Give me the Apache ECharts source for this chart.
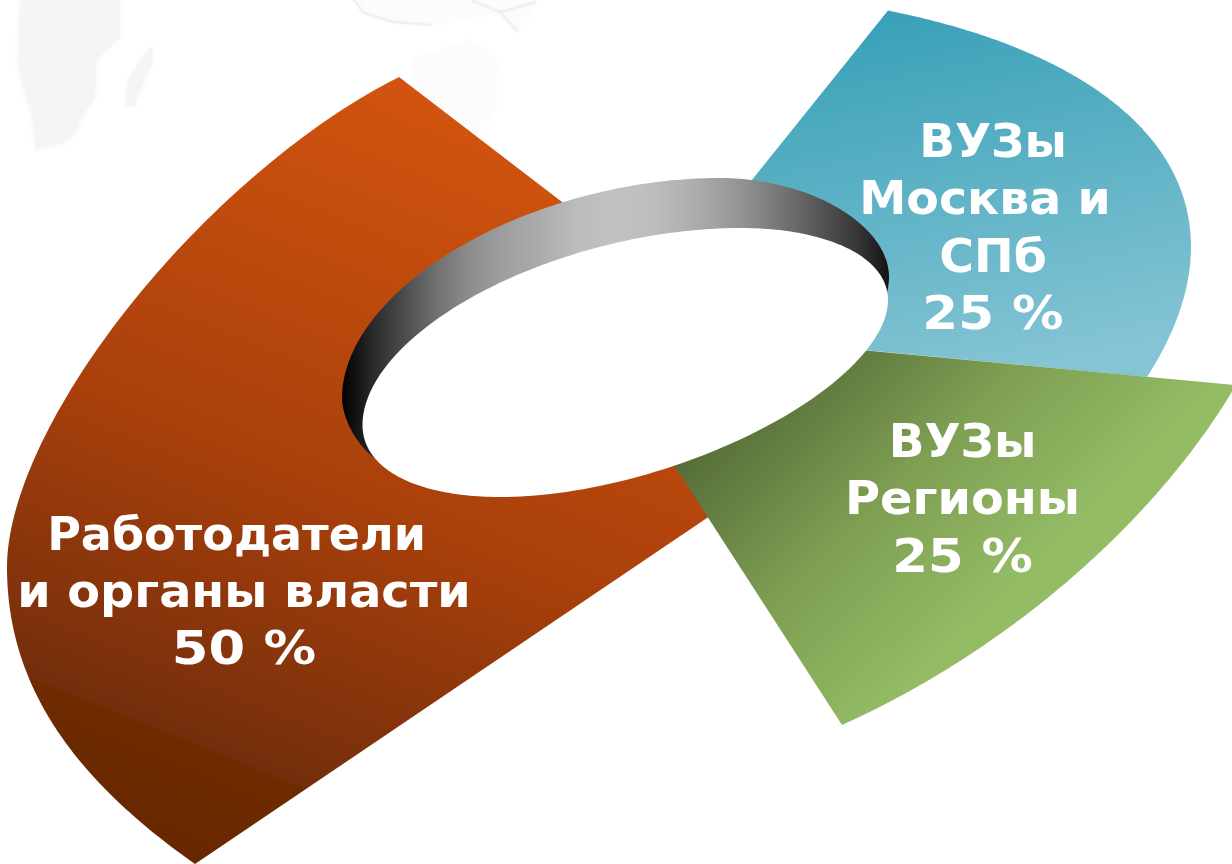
<!DOCTYPE html>
<html><head><meta charset="utf-8">
<style>html,body{margin:0;padding:0;background:#fff}#c{width:1232px;height:864px}</style>
<script src="https://cdn.jsdelivr.net/npm/echarts@6/dist/echarts.min.js"></script>
</head><body><div id="c"></div>
<script>
var categories = ['Работодатели и органы власти', 'ВУЗы Москва и СПб', 'ВУЗы Регионы'];
var values = [50, 25, 25];
var labelLines = [['Работодатели', 'и органы власти'], ['ВУЗы', 'Москва и', 'СПб'], ['ВУЗы', 'Регионы']];

// Layout of each sector: apex, outer arc frame (conic pieces), value of a full arc
var sectorFrames = [
  {apex:[849,422], full:50, arcs:[
    {p0:[399,77], c:[7,273], p2:[7,567], w:0.58},
    {p0:[7,567], c:[7,732], p2:[195,864], w:1.05}]},
  {apex:[633,328], full:25, arcs:[{p0:[888,10.5], c:[1326.7,98.5], p2:[1147,377], w:0.85}]},
  {apex:[583,324], full:25, arcs:[{p0:[1236,385], c:[1106,606], p2:[842,725], w:0.88}]}
];
var sectorFills = [
  {x:399,y:77,x2:94,y2:827,colorStops:[{offset:0,color:'#D2540F'},{offset:.5,color:'#A9400B'},{offset:.857,color:'#742E0C'},{offset:.859,color:'#6F2B00'},{offset:1,color:'#672700'}]},
  {x:880,y:10,x2:955,y2:380,colorStops:[{offset:0,color:'#38A0B7'},{offset:1,color:'#84C4D4'}]},
  {x:680,y:470,x2:904,y2:697,colorStops:[{offset:0,color:'#566F3A'},{offset:.5,color:'#7E9E52'},{offset:1,color:'#94BC65'}]}
];
// [center x, center y, horizontal stretch] for each text line of each label
var labelLayout = [
  [[236.5,538.5,1],[244,595.5,1.037],[244,652.5,1.145]],
  [[993,145,1.02],[985,202.5,1.03],[993,260,1.03],[993,317.5,1.12]],
  [[962.5,445,1.02],[962.5,502.5,1.04],[962.5,560,1.115]]
];
var holeArcs = [
  {p0:[362.5,425], c:[362.5,228], p2:[740,228], w:0.5625},
  {p0:[740,228], c:[888,228], p2:[888,300], w:0.805},
  {p0:[888,300], c:[888,497], p2:[501,497], w:0.488},
  {p0:[501,497], c:[362.5,497], p2:[362.5,425], w:0.85}
];
var wallArcs = [
  {p0:[373,457], c:[342,433], p2:[342,398], w:0.7},
  {p0:[342,398], c:[342,178], p2:[720,178], w:0.602},
  {p0:[720,178], c:[889,178], p2:[889,277], w:0.657},
  {p0:[889,277], c:[889,285], p2:[887,293], w:0.7}
];
var wallStops = [[342,'#000000'],[373,'#2A2A2A'],[407,'#4F4F4F'],[440,'#747474'],[473,'#8F8F8F'],[507,'#A0A0A0'],[540,'#ABABAB'],[573,'#BBBBBB'],[615,'#C2C2C2'],[653,'#BDBDBD'],[687,'#B0B0B0'],[720,'#A0A0A0'],[753,'#8B8B8B'],[787,'#707070'],[820,'#555555'],[853,'#3A3A3A'],[889,'#141414']];
var mapPatches = [
  [[20,0],[120,0],[120,37],[96,60],[95,97],[84,113],[75,133],[64,143],[36,150],[32,117],[18,67]],
  [[153,45],[152,63],[139,93],[134,107],[125,105],[128,80],[143,57]]
];
var mapFaint = [
  [[354,0],[364,13],[393,22],[432,25],[500,12],[518,32],[536,2],[536,0]],
  [[410,60],[470,40],[497,60],[495,110],[470,145],[430,130]]
];
var mapLines = [
  [[354,0],[364,13],[393,22],[432,25]],
  [[471,0],[500,12],[518,32]],
  [[500,12],[536,2]]
];

function conicPoint(f, t){
  var a=(1-t)*(1-t), b=2*f.w*t*(1-t), d=t*t, s=a+b+d;
  return [(a*f.p0[0]+b*f.c[0]+d*f.p2[0])/s,(a*f.p0[1]+b*f.c[1]+d*f.p2[1])/s];
}
function arcsPoint(arcs, t){
  var x=Math.min(t,1)*arcs.length, i=Math.min(Math.floor(x),arcs.length-1);
  return conicPoint(arcs[i], x-i);
}
function outline(arcs){
  var pts=[], n=arcs.length*60;
  for(var i=0;i<=n;i++) pts.push(arcsPoint(arcs,i/n));
  return pts;
}

var gfx = [];
mapFaint.forEach(function(p){gfx.push({type:'polygon',z:0,silent:true,shape:{points:p},style:{fill:'#fcfcfc',shadowBlur:10,shadowColor:'#fcfcfc'}});});
mapPatches.forEach(function(p){gfx.push({type:'polygon',z:0,silent:true,shape:{points:p},style:{fill:'#f5f5f5',shadowBlur:6,shadowColor:'#f5f5f5'}});});
mapLines.forEach(function(p){gfx.push({type:'polyline',z:0,silent:true,shape:{points:p},style:{fill:null,stroke:'#efefef',lineWidth:2,shadowBlur:3,shadowColor:'#f2f2f2'}});});

var chart = echarts.init(document.getElementById('c'), null, {renderer:'canvas'});
chart.setOption({
  animation:false,
  backgroundColor:'#ffffff',
  graphic:{elements:gfx},
  series:[
    {type:'custom',coordinateSystem:'none',z:2,silent:true,
     data:values.map(function(v,i){return {name:categories[i],value:v};}),
     renderItem:function(params,api){
       var i=params.dataIndex,f=sectorFrames[i],span=api.value(0)/f.full,pts=[f.apex];
       for(var k=0;k<=160;k++) pts.push(arcsPoint(f.arcs,k/160*span));
       var g=sectorFills[i];
       return {type:'polygon',shape:{points:pts},style:{fill:{type:'linear',global:true,x:g.x,y:g.y,x2:g.x2,y2:g.y2,colorStops:g.colorStops}}};
     }},
    {type:'custom',coordinateSystem:'none',z:3,silent:true,data:[0],
     renderItem:function(){
       var x0=wallStops[0][0],x1=wallStops[wallStops.length-1][0];
       return {type:'group',children:[
         {type:'polygon',shape:{points:outline(wallArcs)},style:{fill:{type:'linear',global:true,x:x0,y:0,x2:x1,y2:0,
           colorStops:wallStops.map(function(s){return {offset:(s[0]-x0)/(x1-x0),color:s[1]};})}}},
         {type:'polygon',shape:{points:outline(holeArcs)},style:{fill:'#ffffff'}}
       ]};
     }},
    {type:'custom',coordinateSystem:'none',z:4,silent:true,
     data:values.map(function(v,i){return {name:categories[i],value:v};}),
     renderItem:function(params,api){
       var i=params.dataIndex,lines=labelLines[i].concat([api.value(0)+' %']);
       return {type:'group',children:lines.map(function(t,k){
         var L=labelLayout[i][k];
         return {type:'text',x:L[0],y:L[1],scaleX:L[2],style:{text:t,x:0,y:0,align:'center',verticalAlign:'middle',
           fill:'#ffffff',font:'bold 46px "DejaVu Sans"'}};
       })};
     }}
  ]
});
</script></body></html>
